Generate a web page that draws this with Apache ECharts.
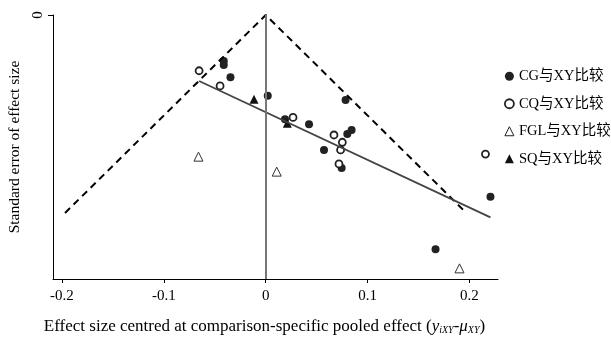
<!DOCTYPE html>
<html>
<head>
<meta charset="utf-8">
<script src="https://cdn.jsdelivr.net/npm/echarts@6/dist/echarts.min.js"></script>
<style>
  html, body { margin: 0; padding: 0; background: #fff; }
  #chart { width: 611px; height: 338px; }
</style>
</head>
<body>
<div id="chart"></div>
<script>
// 数据: [偏移效应, 标准误]
const cgPoints = [
  [-0.0412, 0.0234], [-0.0412, 0.0254], [-0.0346, 0.0316], [0.002, 0.041],
  [0.0189, 0.0529], [0.0425, 0.0555], [0.0784, 0.0431], [0.0572, 0.0685],
  [0.0801, 0.0604], [0.0843, 0.0584], [0.0745, 0.0777], [0.2206, 0.0922],
  [0.1667, 0.1189]
];
const cqPoints = [
  [-0.0654, 0.0283], [-0.0448, 0.036], [0.0268, 0.052], [0.067, 0.0609],
  [0.0752, 0.0646], [0.0735, 0.0685], [0.0719, 0.0756], [0.2157, 0.0706]
];
const fglPoints = [[-0.066, 0.0719], [0.0108, 0.0795], [0.1902, 0.1286]];
const sqPoints = [[-0.0115, 0.0428], [0.0212, 0.055]];

// 漏斗线和回归线
const funnelLine = [[-0.197, 0.1005], [0, 0], [0.197, 0.1005]];
const fitLine = [[-0.0654, 0.0335], [0.2206, 0.1027]];

const xTicks = [-0.2, -0.1, 0, 0.1, 0.2];
const yTicks = [0];
const seriesNames = ['CG与XY比较', 'CQ与XY比较', 'FGL与XY比较', 'SQ与XY比较'];

const fontFamily = '"Liberation Serif", "Times New Roman", "Noto Sans CJK SC", serif';

const chart = echarts.init(document.getElementById('chart'), null, { renderer: 'canvas' });

const option = {
  backgroundColor: '#fff',
  animation: false,
  textStyle: { fontFamily: fontFamily, color: '#000' },
  grid: { left: 53, right: 113, top: 15, bottom: 59, outerBoundsMode: 'none' },
  legend: {
    orient: 'vertical',
    left: 504,
    top: 69,
    padding: 0,
    itemWidth: 9,
    itemHeight: 9,
    itemGap: 13,
    textStyle: { fontFamily: fontFamily, fontSize: 14.5, color: '#000' },
    data: [
      { name: seriesNames[0], icon: 'circle', itemStyle: { color: '#222', borderWidth: 0 } },
      { name: seriesNames[1], icon: 'circle', itemStyle: { color: '#fff', borderColor: '#222', borderWidth: 1.8 } },
      { name: seriesNames[2], icon: 'triangle', itemStyle: { color: '#fff', borderColor: '#222', borderWidth: 1 } },
      { name: seriesNames[3], icon: 'triangle', itemStyle: { color: '#111', borderWidth: 0 } }
    ]
  },
  xAxis: {
    type: 'value',
    position: 'bottom',
    min: -0.2088,
    max: 0.228,
    splitLine: { show: false },
    axisLine: { onZero: false, lineStyle: { color: '#000', width: 1 } },
    axisTick: { show: true, customValues: xTicks, length: 4, lineStyle: { color: '#000' } },
    axisLabel: {
      customValues: xTicks,
      margin: 10,
      fontSize: 15,
      color: '#000',
      formatter: v => (Math.abs(v) < 1e-9 ? '0' : v.toFixed(1))
    },
    name: '{n|Effect size centred at comparison-specific pooled effect (}{i|y}{s|iXY}{n|-}{i|μ}{s|XY}{n|)}',
    nameLocation: 'middle',
    nameGap: 39,
    nameTextStyle: {
      padding: [0, 22, 0, 0],
      rich: {
        n: { fontFamily: fontFamily, fontSize: 17, color: '#000' },
        i: { fontFamily: fontFamily, fontSize: 17, fontStyle: 'italic', color: '#000' },
        s: { fontFamily: fontFamily, fontSize: 10, fontStyle: 'italic', color: '#000', verticalAlign: 'bottom', padding: [7, 0, 0, 0] }
      }
    }
  },
  yAxis: {
    type: 'value',
    min: 0,
    max: 0.134,
    inverse: true,
    splitLine: { show: false },
    axisLine: { show: true, onZero: false, lineStyle: { color: '#000', width: 1 } },
    axisTick: { show: true, customValues: yTicks, length: 5, lineStyle: { color: '#000' } },
    axisLabel: { customValues: yTicks, rotate: 90, fontSize: 15, color: '#000', margin: 7 },
    name: 'Standard error of effect size',
    nameLocation: 'middle',
    nameGap: 28,
    nameTextStyle: { fontFamily: fontFamily, fontSize: 15.5, color: '#000' }
  },
  series: [
    {
      type: 'line',
      data: [],
      silent: true,
      markLine: {
        symbol: 'none',
        silent: true,
        label: { show: false },
        lineStyle: { color: '#777', width: 2, type: 'solid' },
        data: [{ xAxis: 0 }]
      }
    },
    {
      type: 'line',
      data: funnelLine,
      symbol: 'none',
      silent: true,
      lineStyle: { color: '#000', width: 2, type: [7, 5] }
    },
    {
      type: 'line',
      data: fitLine,
      symbol: 'none',
      silent: true,
      lineStyle: { color: '#444', width: 1.8 }
    },
    {
      name: seriesNames[0],
      type: 'scatter',
      data: cgPoints,
      symbol: 'circle',
      symbolSize: 8,
      itemStyle: { color: '#222', opacity: 1 }
    },
    {
      name: seriesNames[1],
      type: 'scatter',
      data: cqPoints,
      symbol: 'circle',
      symbolSize: 7,
      itemStyle: { color: '#fff', borderColor: '#222', borderWidth: 1.8, opacity: 1 }
    },
    {
      name: seriesNames[2],
      type: 'scatter',
      data: fglPoints,
      symbol: 'triangle',
      symbolSize: 9,
      itemStyle: { color: '#fff', borderColor: '#333', borderWidth: 1, opacity: 1 }
    },
    {
      name: seriesNames[3],
      type: 'scatter',
      data: sqPoints,
      symbol: 'triangle',
      symbolSize: 9,
      itemStyle: { color: '#111', opacity: 1 }
    }
  ]
};

chart.setOption(option);
</script>
</body>
</html>
